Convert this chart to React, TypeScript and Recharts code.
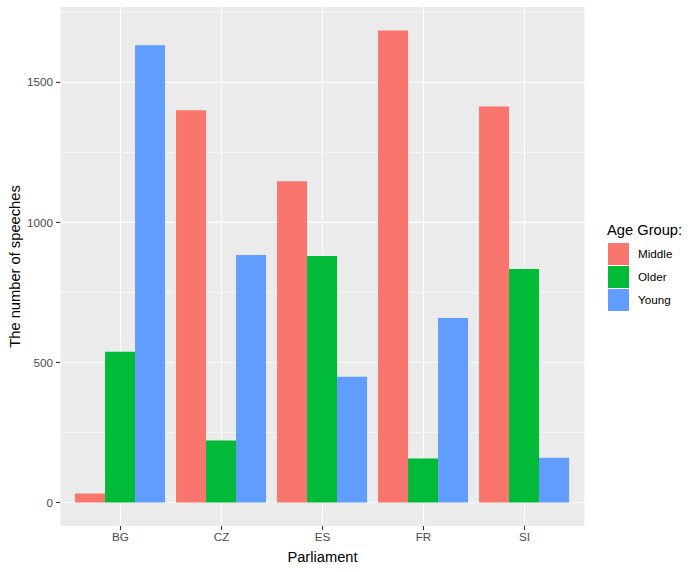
import React from 'react';
import {
  BarChart,
  Bar,
  XAxis,
  YAxis,
  CartesianGrid,
} from 'recharts';

const parliaments = ['BG', 'CZ', 'ES', 'FR', 'SI'];
const middle = [32, 1400, 1147, 1685, 1414];
const older = [538, 221, 880, 157, 834];
const young = [1632, 884, 449, 659, 160];

const groups = ['Middle', 'Older', 'Young'];
const colors = ['#F8766D', '#00BA38', '#619CFF'];

const majorTicks = [0, 500, 1000, 1500];
const minorTicks = [250, 750, 1250, 1750];

const data = parliaments.map((p, i) => ({
  name: p,
  Middle: middle[i],
  Older: older[i],
  Young: young[i],
}));

const font = '"Liberation Sans", Arial, sans-serif';

// legend drawn beside the chart, like ggplot's right-hand guide
const LegendBox = () => (
  <svg
    width={90}
    height={100}
    style={{ position: 'absolute', left: 605, top: 215, display: 'block' }}
  >
    <text x={2} y={20} fontSize={14.7} fill="#000" fontFamily={font}>
      Age Group:
    </text>
    {groups.map((g, i) => (
      <g key={g}>
        <rect x={3} y={28 + i * 23} width={21} height={22} fill={colors[i]} />
        <text x={33} y={43 + i * 23} fontSize={11.7} fill="#000" fontFamily={font}>
          {g}
        </text>
      </g>
    ))}
  </svg>
);

const App = () => {
  return (
    <div style={{ position: 'absolute', left: 0, top: 0, width: 695, height: 572, fontFamily: font }}>
      <BarChart
        width={695}
        height={572}
        data={data}
        margin={{ top: 7, right: 110, left: 0, bottom: 0 }}
        barCategoryGap="5%"
        barGap={0}
      >
        <CartesianGrid
          fill="#EBEBEB"
          fillOpacity={1}
          stroke="#FFFFFF"
          strokeWidth={1.1}
          horizontalValues={majorTicks}
        />
        <CartesianGrid
          stroke="#FFFFFF"
          strokeWidth={0.55}
          vertical={false}
          horizontalValues={minorTicks}
        />
        <XAxis
          dataKey="name"
          height={46}
          padding={{ left: 10, right: 10 }}
          axisLine={false}
          tickSize={4}
          tickMargin={3}
          tickLine={{ stroke: '#333333', strokeWidth: 1.1 }}
          tick={{ fill: '#4D4D4D', fontSize: 11.7, fontFamily: font }}
          label={({ viewBox }: any) => (
            <text
              x={viewBox.x + viewBox.width / 2}
              y={viewBox.y + 36}
              textAnchor="middle"
              fontSize={14.7}
              fill="#000"
              fontFamily={font}
            >
              Parliament
            </text>
          )}
        />
        <YAxis
          width={60}
          type="number"
          domain={[-84, 1769]}
          ticks={majorTicks}
          allowDataOverflow
          axisLine={false}
          tickSize={4}
          tickMargin={3}
          tickLine={{ stroke: '#333333', strokeWidth: 1.1 }}
          tick={{ fill: '#4D4D4D', fontSize: 11.7, fontFamily: font }}
          label={({ viewBox }: any) => {
            const cx = viewBox.x + 15;
            const cy = viewBox.y + viewBox.height / 2;
            return (
              <text
                x={cx}
                y={cy}
                transform={`rotate(-90, ${cx}, ${cy})`}
                textAnchor="middle"
                dominantBaseline="central"
                fontSize={14.7}
                fill="#000"
                fontFamily={font}
              >
                The number of speeches
              </text>
            );
          }}
        />
        {groups.map((g, i) => (
          <Bar key={g} dataKey={g} fill={colors[i]} isAnimationActive={false} />
        ))}
      </BarChart>
      <LegendBox />
    </div>
  );
};

export default App;
